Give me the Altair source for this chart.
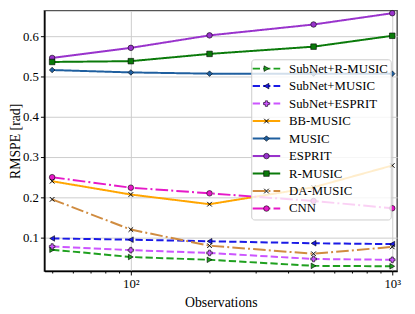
import altair as alt
import pandas as pd

obs = [50, 100, 200, 500, 1000]
series = ["SubNet+R-MUSIC", "SubNet+MUSIC", "SubNet+ESPRIT", "BB-MUSIC", "MUSIC",
          "ESPRIT", "R-MUSIC", "DA-MUSIC", "CNN"]
values = {
    "SubNet+R-MUSIC": [0.070, 0.052, 0.045, 0.030, 0.029],
    "SubNet+MUSIC":   [0.098, 0.095, 0.091, 0.086, 0.084],
    "SubNet+ESPRIT":  [0.078, 0.069, 0.062, 0.047, 0.045],
    "BB-MUSIC":       [0.240, 0.207, 0.183, 0.225, 0.279],
    "MUSIC":          [0.516, 0.510, 0.507, 0.507, 0.507],
    "ESPRIT":         [0.546, 0.571, 0.602, 0.629, 0.657],
    "R-MUSIC":        [0.536, 0.538, 0.556, 0.574, 0.601],
    "DA-MUSIC":       [0.195, 0.120, 0.080, 0.060, 0.077],
    "CNN":            [0.250, 0.224, 0.210, 0.191, 0.173],
}
colors = ["#1fa01f", "#1a1ae6", "#cc55ff", "#ffa500", "#1f5f9f",
          "#9933cc", "#0a7a0a", "#d08c40", "#e619c8"]
dashes = [[7.4, 3.2], [7.4, 3.2], [7.4, 3.2], [1, 0], [1, 0],
          [1, 0], [1, 0], [12.8, 3.2, 2, 3.2], [12.8, 3.2, 2, 3.2]]
XPATH = "M-1,-1L1,1M-1,1L1,-1"
shapes = ["triangle-right", "triangle-left", "cross", XPATH, "diamond",
          "circle", "square", XPATH, "circle"]

FONT = "Liberation Serif"

rows = []
for s in series:
    for o, v in zip(obs, values[s]):
        rows.append({"series": s, "obs": o, "rmspe": v})
df = pd.DataFrame(rows)

xscale = alt.Scale(type="log", domain=[46.69, 1044.2], nice=False)
yscale = alt.Scale(domain=[0.01707, 0.6634], nice=False, zero=False)
cscale = alt.Scale(domain=series, range=colors)
dscale = alt.Scale(domain=series, range=dashes)
sscale = alt.Scale(domain=series, range=shapes)

major = "datum.value == 100 || datum.value == 1000"
xaxis = alt.Axis(
    values=[50, 60, 70, 80, 90, 100, 200, 300, 400, 500, 600, 700, 800, 900, 1000],
    labelExpr="datum.value == 100 ? '10²' : (datum.value == 1000 ? '10³' : '')",
    tickSize={"expr": major + " ? 4 : 2"},
    gridOpacity={"expr": major + " ? 1 : 0"},
    title="Observations",
    titleFontSize=14, labelFontSize=13, labelPadding=3, titlePadding=5,
)
yaxis = alt.Axis(values=[0.1, 0.2, 0.3, 0.4, 0.5, 0.6], format=".1f",
                 title="RMSPE [rad]", titleFontSize=14, labelFontSize=13,
                 tickSize=4, labelPadding=2, titlePadding=0)

X = alt.X("obs:Q", scale=xscale, axis=xaxis)
Y = alt.Y("rmspe:Q", scale=yscale, axis=yaxis)

lines = alt.Chart(df).mark_line(strokeWidth=2).encode(
    x=X, y=Y,
    color=alt.Color("series:N", scale=cscale, legend=None),
    strokeDash=alt.StrokeDash("series:N", scale=dscale, legend=None),
    detail="series:N",
)

xnames = [series[3], series[7]]
filled_df = df[~df["series"].isin(xnames)]
x_df = df[df["series"].isin(xnames)]

pts = alt.Chart(filled_df).mark_point(filled=True, size=32, stroke="black",
                                       strokeWidth=0.6, opacity=1).encode(
    x=X, y=Y,
    color=alt.Color("series:N", scale=cscale, legend=None),
    shape=alt.Shape("series:N", scale=sscale, legend=None),
)
xpts = alt.Chart(x_df).mark_point(shape=XPATH, size=22, stroke="black",
                                   strokeWidth=1, filled=False, opacity=1).encode(
    x=X, y=Y,
)

layers = [lines, pts, xpts]

# legend
LX0, LX1, LY0, LY1 = 211, 353, 50, 213
legbox = alt.Chart(pd.DataFrame({"a": [0]})).mark_rect(
    fill="white", fillOpacity=0.8, stroke="#cccccc", strokeWidth=1, cornerRadius=3
).encode(x=alt.value(LX0), x2=alt.value(LX1), y=alt.value(LY0), y2=alt.value(LY1))
layers.append(legbox)

for i, s in enumerate(series):
    yy = 59 + 17.8 * i
    d = pd.DataFrame({"series": [s]})
    seg = alt.Chart(d).mark_rule(strokeWidth=2, color=colors[i],
                                 strokeDash=dashes[i]).encode(
        x=alt.value(212), x2=alt.value(240), y=alt.value(yy))
    if shapes[i] == XPATH:
        mk = alt.Chart(d).mark_point(shape=XPATH, size=22, stroke="black",
                                     strokeWidth=1, opacity=1).encode(
            x=alt.value(226), y=alt.value(yy))
    else:
        mk = alt.Chart(d).mark_point(shape=shapes[i], size=32, filled=True,
                                     fill=colors[i], stroke="black",
                                     strokeWidth=0.6, opacity=1).encode(
            x=alt.value(226), y=alt.value(yy))
    tx = alt.Chart(d).mark_text(align="left", baseline="middle", font=FONT,
                                fontSize=13, color="black").encode(
        x=alt.value(249), y=alt.value(yy), text="series:N")
    layers += [seg, mk, tx]

chart = alt.layer(*layers).properties(
    width=359, height=265,
    background="white",
    autosize=alt.AutoSizeParams(type="none"),
    padding={"left": 37, "top": 0, "right": 10, "bottom": 40},
).configure_view(stroke="#555555", strokeWidth=1.5).configure_axis(
    labelFont=FONT, titleFont=FONT, labelColor="black", titleColor="black",
    titleFontWeight="normal", domainColor="black", domainWidth=1.5,
    tickColor="black", gridColor="#cccccc", gridWidth=1,
)

chart.save("out.html", embed_options={"renderer": "svg", "actions": False})
